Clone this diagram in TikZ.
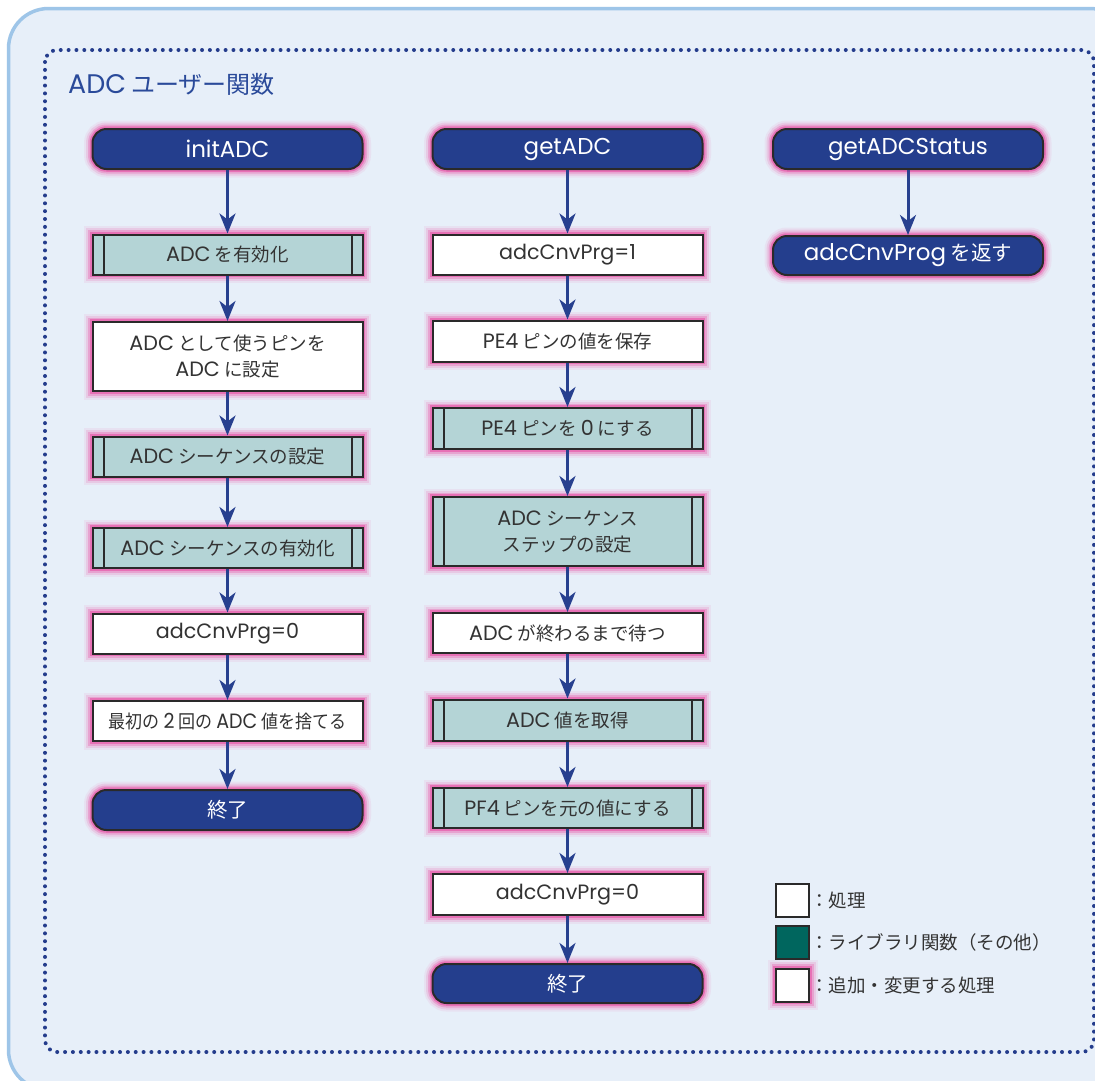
\documentclass[tikz,border=0pt]{standalone}
\usepackage{fontspec}
\usepackage{graphicx}
\newfontfamily\jpfont{Noto Sans CJK JP}
\newfontfamily\latinfont{Poppins}[Scale=1.12]
\newcommand\lt[1]{{\latinfont #1}}
\usetikzlibrary{arrows.meta}
\definecolor{bgfill}{HTML}{E7EFF9}
\definecolor{outerline}{HTML}{9EC5E8}
\definecolor{dotblue}{HTML}{243C8C}
\definecolor{termfill}{HTML}{243E8D}
\definecolor{libfill}{HTML}{B4D4D6}
\definecolor{boxline}{HTML}{2A2A2A}
\definecolor{arrowblue}{HTML}{27408F}
\definecolor{txtdark}{HTML}{333333}
\definecolor{glowpink}{HTML}{E8419E}
\definecolor{legteal}{HTML}{00665E}
\definecolor{titleblue}{HTML}{2A4A9A}
\begin{document}
\begin{tikzpicture}[x=1pt,y=-1pt,
 glow/.style={
   preaction={draw=glowpink,line width=17pt,draw opacity=0.08},
   preaction={draw=glowpink,line width=13pt,draw opacity=0.15},
   preaction={draw=glowpink,line width=9pt,draw opacity=0.28},
   preaction={draw=glowpink,line width=5.5pt,draw opacity=0.50}},
 base/.style={draw=boxline,line width=2pt,minimum width=270pt,minimum height=40pt,
   inner sep=0pt,font=\jpfont\fontsize{18.5}{26}\selectfont,text=txtdark,align=center,glow},
 proc/.style={base,rectangle,fill=white},
 lib/.style={base,rectangle,fill=libfill,
   path picture={\draw[boxline,line width=2pt]
     ([xshift=11pt]path picture bounding box.north west) -- ([xshift=11pt]path picture bounding box.south west)
     ([xshift=-11pt]path picture bounding box.north east) -- ([xshift=-11pt]path picture bounding box.south east);}},
 term/.style={base,rectangle,rounded corners=14pt,fill=termfill,text=white,
   font=\jpfont\fontsize{20.5}{26}\selectfont},
 arr/.style={draw=arrowblue,line width=3pt,-{Stealth[length=20pt,width=16pt,inset=6pt]}},
 legbox/.style={draw=boxline,line width=2pt,minimum width=33pt,minimum height=33pt,inner sep=0pt},
 legtext/.style={anchor=west,inner sep=0pt,text=txtdark,font=\jpfont\fontsize{18.5}{24}\selectfont},
]
\useasboundingbox (0,0) rectangle (1095,1080);
\clip (0,0) rectangle (1095,1080);
\fill[white] (0,0) rectangle (1095,1080);
\draw[outerline,fill=bgfill,line width=3.5pt,rounded corners=40pt] (8.5,8.5) rectangle (1130,1090);
\draw[dotblue,line width=4pt,line cap=round,dash pattern=on 0pt off 7.85pt,rounded corners=12pt] (45,50) rectangle (1094,1052);

\node[anchor=base west,inner sep=0pt,text=titleblue,font=\jpfont\fontsize{24}{28}\selectfont] (title) at (68,93) {\lt{ADC} ユーザー関数};

% column 1
\node[term] (initADC) at (227.5,149) {\lt{initADC}};
\node[lib] (enADC) at (227.5,254.5) {\lt{ADC} を有効化};
\node[proc,minimum height=69pt] (pinset) at (227.5,356.5) {\lt{ADC} として使うピンを\\\lt{ADC} に設定};
\node[lib] (seqset) at (227.5,456.5) {\lt{ADC} シーケンスの設定};
\node[lib] (seqen) at (227.5,548) {\lt{ADC} シーケンスの有効化};
\node[proc] (cnvA) at (227.5,633.5) {\lt{adcCnvPrg=0}};
\node[proc] (discard) at (227.5,721) {\scalebox{0.92}[1]{最初の \lt{2} 回の \lt{ADC} 値を捨てる}};
\node[term] (endA) at (227.5,810) {終了};

% column 2
\node[term] (getADC) at (567.5,149) {\lt{getADC}};
\node[proc] (cnv1) at (567.5,254.5) {\lt{adcCnvPrg=1}};
\node[proc,minimum height=41pt] (save) at (567.5,341) {\lt{PE4} ピンの値を保存};
\node[lib,minimum height=41pt] (pezero) at (567.5,428.5) {\lt{PE4} ピンを \lt{0} にする};
\node[lib,minimum height=69pt] (seqstep) at (567.5,531.5) {\lt{ADC} シーケンス\\ステップの設定};
\node[proc] (wait) at (567.5,633) {\lt{ADC} が終わるまで待つ};
\node[lib,minimum height=41pt] (getval) at (567.5,720) {\lt{ADC} 値を取得};
\node[lib] (pf4) at (567.5,808) {\lt{PF4} ピンを元の値にする};
\node[proc,minimum height=41pt] (cnvB) at (567.5,894.5) {\lt{adcCnvPrg=0}};
\node[term,minimum height=39pt] (endB) at (567.5,983.5) {終了};

% column 3
\node[term] (status) at (908,149) {\lt{getADCStatus}};
\node[term,minimum height=39pt] (retprog) at (908,255.5) {\lt{adcCnvProg} を返す};

% arrows
\draw[arr] (initADC.south) -- (enADC.north);
\draw[arr] (enADC.south) -- (pinset.north);
\draw[arr] (pinset.south) -- (seqset.north);
\draw[arr] (seqset.south) -- (seqen.north);
\draw[arr] (seqen.south) -- (cnvA.north);
\draw[arr] (cnvA.south) -- (discard.north);
\draw[arr] (discard.south) -- (endA.north);

\draw[arr] (getADC.south) -- (cnv1.north);
\draw[arr] (cnv1.south) -- (save.north);
\draw[arr] (save.south) -- (pezero.north);
\draw[arr] (pezero.south) -- (seqstep.north);
\draw[arr] (seqstep.south) -- (wait.north);
\draw[arr] (wait.south) -- (getval.north);
\draw[arr] (getval.south) -- (pf4.north);
\draw[arr] (pf4.south) -- (cnvB.north);
\draw[arr] (cnvB.south) -- (endB.north);

\draw[arr] (status.south) -- (retprog.north);

% legend
\node[legbox,fill=white] (lg1) at (792.5,900) {};
\node[legtext] (lt1) at (lg1.east) {：処理};
\node[legbox,fill=legteal] (lg2) at (792.5,942.5) {};
\node[legtext] (lt2) at (lg2.east) {：ライブラリ関数（その他）};
\node[legbox,fill=white,glow] (lg3) at (792.5,985) {};
\node[legtext] (lt3) at (lg3.east) {：追加・変更する処理};
\end{tikzpicture}
\end{document}
